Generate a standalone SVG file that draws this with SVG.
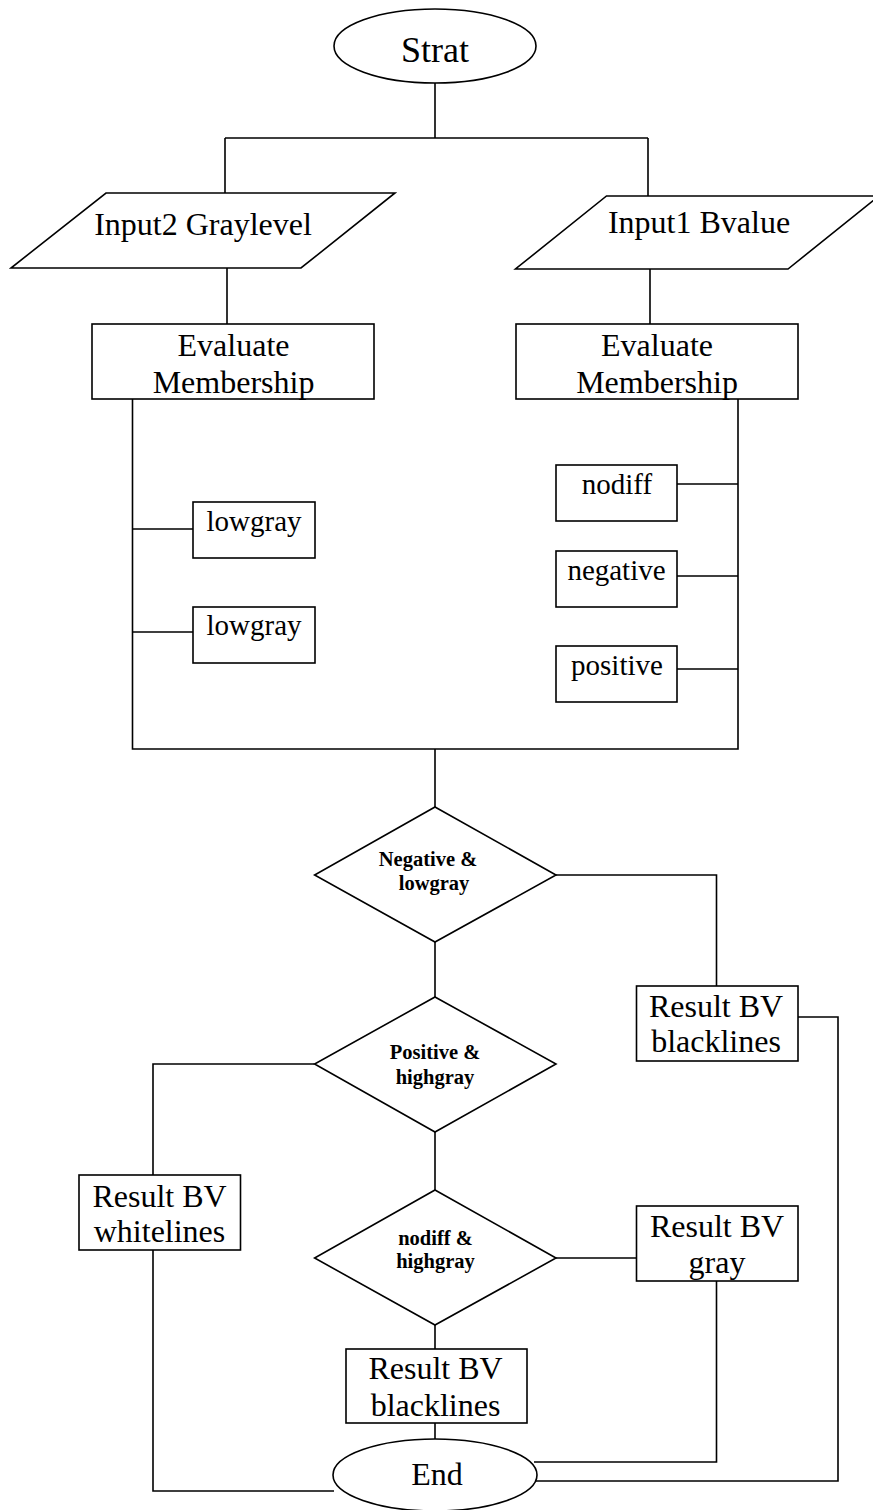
<svg xmlns="http://www.w3.org/2000/svg" width="873" height="1510" viewBox="0 0 873 1510">
<style>
.s{fill:#fff;stroke:#000;stroke-width:1.6}
.c{fill:none;stroke:#000;stroke-width:1.6}
.t{font-family:"Liberation Serif","Times New Roman",serif;fill:#000;text-anchor:middle}
.big{font-size:32px}
.sm{font-size:29px}
.b{font-size:20.5px;font-weight:bold}
</style>
<rect width="873" height="1510" fill="#fff"/>
<g id="connectors">
<path class="c" d="M435 83V138M225 138H648M225 138V193M648 138V196"/>
<path class="c" d="M227 268V324M650 269V324"/>
<path class="c" d="M132.5 399V749H738V399M435 749V807"/>
<path class="c" d="M132.5 529H193M132.5 632H193"/>
<path class="c" d="M677 484H738M677 576H738M677 669H738"/>
<path class="c" d="M435 942V997M556 875H716.5V986"/>
<path class="c" d="M798 1017H838V1481H536"/>
<path class="c" d="M314.6 1064H153V1175M153 1250V1491H334"/>
<path class="c" d="M435 1132V1190M556 1258H636M716.5 1281V1462H534"/>
<path class="c" d="M435 1325V1349M435 1423V1439"/>
</g>
<g id="start">
<ellipse class="s" cx="435" cy="46" rx="101" ry="37"/>
<text class="t" x="435" y="62" font-size="36">Strat</text>
</g>
<g id="input2">
<polygon class="s" points="106,193 395,193 301,268 11,268"/>
<text class="t big" x="203" y="235">Input2 Graylevel</text>
</g>
<g id="input1">
<polygon class="s" points="606.5,196 879,196 788,269 515.5,269"/>
<text class="t big" x="699" y="233">Input1 Bvalue</text>
</g>
<g id="eval2">
<rect class="s" x="92" y="324" width="282" height="75"/>
<text class="t big" x="233.5" y="356">Evaluate</text>
<text class="t big" x="233.5" y="393">Membership</text>
</g>
<g id="eval1">
<rect class="s" x="516" y="324" width="282" height="75"/>
<text class="t big" x="657" y="356">Evaluate</text>
<text class="t big" x="657" y="393">Membership</text>
</g>
<g id="lowgray1">
<rect class="s" x="193" y="502" width="122" height="56"/>
<text class="t sm" x="254" y="531">lowgray</text>
</g>
<g id="lowgray2">
<rect class="s" x="193" y="607" width="122" height="56"/>
<text class="t sm" x="254" y="635">lowgray</text>
</g>
<g id="nodiff">
<rect class="s" x="556" y="465" width="121" height="56"/>
<text class="t sm" x="617" y="494">nodiff</text>
</g>
<g id="negative">
<rect class="s" x="556" y="551" width="121" height="56"/>
<text class="t sm" x="616.5" y="580">negative</text>
</g>
<g id="positive">
<rect class="s" x="556" y="646" width="121" height="56"/>
<text class="t sm" x="617" y="675">positive</text>
</g>
<g id="dec1">
<polygon class="s" points="435,807 556,875 435,942 314.6,875"/>
<text class="t b" x="428" y="866">Negative &amp;</text>
<text class="t b" x="434" y="890">lowgray</text>
</g>
<g id="dec2">
<polygon class="s" points="435,997 556,1064 435,1132 314.6,1064"/>
<text class="t b" x="435" y="1059">Positive &amp;</text>
<text class="t b" x="435" y="1084">highgray</text>
</g>
<g id="dec3">
<polygon class="s" points="435,1190 556,1258 435,1325 314.6,1258"/>
<text class="t b" x="435.5" y="1245">nodiff &amp;</text>
<text class="t b" x="435.5" y="1268">highgray</text>
</g>
<g id="res-black-right">
<rect class="s" x="636.5" y="986" width="161.5" height="75"/>
<text class="t big" x="716" y="1017">Result BV</text>
<text class="t big" x="716" y="1052">blacklines</text>
</g>
<g id="res-white">
<rect class="s" x="79" y="1175" width="161.5" height="75"/>
<text class="t big" x="159.5" y="1207">Result BV</text>
<text class="t big" x="159.5" y="1242">whitelines</text>
</g>
<g id="res-gray">
<rect class="s" x="636.5" y="1206" width="161.5" height="75"/>
<text class="t big" x="717" y="1237">Result BV</text>
<text class="t big" x="717" y="1273">gray</text>
</g>
<g id="res-black-bottom">
<rect class="s" x="346" y="1349" width="181" height="74"/>
<text class="t big" x="435.5" y="1379">Result BV</text>
<text class="t big" x="435.5" y="1416">blacklines</text>
</g>
<g id="end">
<ellipse class="s" cx="435" cy="1475" rx="102" ry="36"/>
<text class="t big" x="437" y="1485">End</text>
</g>
</svg>
